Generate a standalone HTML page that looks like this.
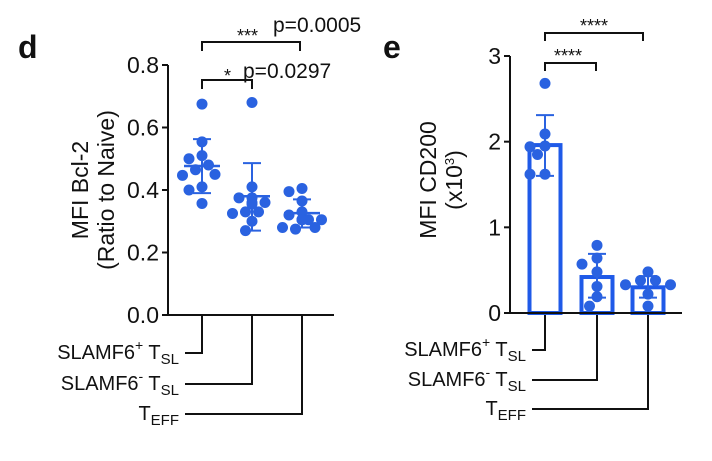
<!DOCTYPE html>
<html><head><meta charset="utf-8"><style>
body{margin:0;background:#fff;width:712px;height:456px;overflow:hidden}
svg text{font-family:"Liberation Sans",Arial,sans-serif;fill:#111}
</style></head><body>
<svg id="c" width="712" height="456" xmlns="http://www.w3.org/2000/svg">
<text x="18" y="58" font-size="32" font-weight="bold">d</text>
<text x="383" y="58" font-size="32" font-weight="bold">e</text>
<text transform="translate(88,190) rotate(-90)" text-anchor="middle" font-size="23">MFI Bcl-2</text>
<text transform="translate(114,190) rotate(-90)" text-anchor="middle" font-size="23">(Ratio to Naive)</text>
<text transform="translate(436,180) rotate(-90)" text-anchor="middle" font-size="23">MFI CD200</text>
<text transform="translate(462,180) rotate(-90)" text-anchor="middle" font-size="23">(x10<tspan font-size="13" dy="-8">3</tspan><tspan dy="8">)</tspan></text>
<g id="gd"></g><g id="ge"></g>
</svg>
<script>
const groupsD = [
  [0.675,0.554,0.51,0.50,0.48,0.465,0.45,0.447,0.41,0.40,0.357],
  [0.68,0.41,0.375,0.375,0.36,0.36,0.355,0.33,0.33,0.325,0.30,0.27],
  [0.405,0.395,0.365,0.33,0.32,0.305,0.305,0.305,0.305,0.275,0.28,0.28]
];
const meansD = [0.477, 0.38, 0.326];
const sdTopD = [0.563, 0.486, 0.37];
const sdBotD = [0.39, 0.27, 0.28];
const ticksD = ["0.0","0.2","0.4","0.6","0.8"];
const groupsE = [
  [2.68,2.09,1.95,1.94,1.85,1.62,1.62],
  [0.79,0.64,0.57,0.48,0.31,0.19,0.08],
  [0.48,0.38,0.38,0.33,0.33,0.22,0.08]
];
const barsE = [1.96, 0.42, 0.30];
const sdTopE = [2.31, 0.69, 0.43];
const sdBotE = [1.6, 0.18, 0.18];
const ticksE = ["0","1","2","3"];
const cats = ["SLAMF6+ TSL","SLAMF6- TSL","TEFF"];

const NS="http://www.w3.org/2000/svg";
function mk(p,tag,attrs){const e=document.createElementNS(NS,tag);for(const k in attrs)e.setAttribute(k,attrs[k]);p.appendChild(e);return e;}
const BLUE="#2a62e0", BLUE2="#1f5ae8";

function catLabels(g,i,rx,y){
  const t=mk(g,'text',{x:rx,y:y,'text-anchor':'end','font-size':'20'});
  
  
  if(i<2){
    t.innerHTML='SLAMF6<tspan font-size="14" dy="-9">'+(i==0?'+':'-')+'</tspan><tspan dy="9"> T</tspan><tspan font-size="15" dy="5">SL</tspan>';
  } else t.innerHTML='T<tspan font-size="15" dy="5">EFF</tspan>';
}
// beeswarm placement: returns pixel x offsets
function swarm(ys,step,minD){
  const placed=[];const out=[];
  const cand=[0,-1,1,-2,2,-3,3];
  ys.forEach(py=>{
    let ox=0;
    for(const c of cand){const x=c*step;
      if(placed.every(p=>Math.hypot(p[0]-x,p[1]-py)>=minD)){ox=x;break;}}
    placed.push([ox,py]);out.push(ox);
  });
  return out;
}
// Panel d
(function(){
  const g=document.getElementById('gd');
  const ax=168, y0=315, yTop=65, ymax=0.8;
  const y=v=>y0-(v/ymax)*(y0-yTop);
  const xs=[202,252,302];
  mk(g,'line',{x1:ax,y1:yTop,x2:ax,y2:y0,stroke:'#111','stroke-width':2});
  mk(g,'line',{x1:ax-1,y1:y0,x2:334,y2:y0,stroke:'#111','stroke-width':2});
  ticksD.forEach((t,i)=>{const v=i*0.2;mk(g,'line',{x1:ax-6,y1:y(v),x2:ax,y2:y(v),stroke:'#111','stroke-width':2});
    const tx=mk(g,'text',{x:ax-9,y:y(v)+8,'text-anchor':'end','font-size':'23'});tx.textContent=t;
    
    });
  const ly=[353,384,414];
  xs.forEach((x,i)=>{mk(g,'polyline',{points:`${x},${y0} ${x},${ly[i]} 185,${ly[i]}`,fill:'none',stroke:'#111','stroke-width':2});
    catLabels(g,i,179,ly[i]+6);});
  groupsD.forEach((vals,i)=>{
    const off=swarm(vals.map(y),6.5,10);
    vals.forEach((v,k)=>{const c=mk(g,'circle',{cx:xs[i]+off[k],cy:y(v),r:5.5,fill:BLUE});
      
      });
    mk(g,'line',{x1:xs[i],y1:y(sdTopD[i]),x2:xs[i],y2:y(sdBotD[i]),stroke:BLUE,'stroke-width':2});
    mk(g,'line',{x1:xs[i]-9,y1:y(sdTopD[i]),x2:xs[i]+9,y2:y(sdTopD[i]),stroke:BLUE,'stroke-width':2});
    mk(g,'line',{x1:xs[i]-9,y1:y(sdBotD[i]),x2:xs[i]+9,y2:y(sdBotD[i]),stroke:BLUE,'stroke-width':2});
    const m=mk(g,'line',{x1:xs[i]-18,y1:y(meansD[i]),x2:xs[i]+18,y2:y(meansD[i]),stroke:BLUE,'stroke-width':2.5});
    
    
  });
  mk(g,'polyline',{points:`202,51 202,42 300,42 300,51`,fill:'none',stroke:'#111','stroke-width':2});
  mk(g,'polyline',{points:`202,89 202,80 252,80 252,89`,fill:'none',stroke:'#111','stroke-width':2});
  let t=mk(g,'text',{x:237,y:42,'font-size':'18'});t.textContent='***';
  
  t=mk(g,'text',{x:273,y:32,'font-size':'21'});t.textContent='p=0.0005';
  
  t=mk(g,'text',{x:224,y:82,'font-size':'18'});t.textContent='*';
  
  t=mk(g,'text',{x:243,y:78,'font-size':'21'});t.textContent='p=0.0297';
  
})();
// Panel e
(function(){
  const g=document.getElementById('ge');
  const ax=510, y0=313, yTop=56, ymax=3;
  const y=v=>y0-(v/ymax)*(y0-yTop);
  const xs=[545,597,648], bw=31;
  const ly=[350,380,409];
  xs.forEach((x,i)=>{mk(g,'polyline',{points:`${x},${y0} ${x},${ly[i]} 532,${ly[i]}`,fill:'none',stroke:'#111','stroke-width':2});
    catLabels(g,i,526,ly[i]+6);});
  barsE.forEach((v,i)=>{const r=mk(g,'rect',{x:xs[i]-bw/2,y:y(v),width:bw,height:y0-y(v),fill:'#fff',stroke:BLUE2,'stroke-width':4});
    
    });
  groupsE.forEach((vals,i)=>{
    const off=swarm(vals.map(y),7.5,10);
    vals.forEach((v,k)=>{const c=mk(g,'circle',{cx:xs[i]+off[k],cy:y(v),r:5.5,fill:BLUE});
      
      });
    mk(g,'line',{x1:xs[i],y1:y(sdTopE[i]),x2:xs[i],y2:y(sdBotE[i]),stroke:BLUE,'stroke-width':2});
    mk(g,'line',{x1:xs[i]-9,y1:y(sdTopE[i]),x2:xs[i]+9,y2:y(sdTopE[i]),stroke:BLUE,'stroke-width':2});
    mk(g,'line',{x1:xs[i]-9,y1:y(sdBotE[i]),x2:xs[i]+9,y2:y(sdBotE[i]),stroke:BLUE,'stroke-width':2});
  });
  mk(g,'line',{x1:ax,y1:yTop,x2:ax,y2:y0,stroke:'#111','stroke-width':2});
  mk(g,'line',{x1:ax-1,y1:y0,x2:682,y2:y0,stroke:'#111','stroke-width':2});
  ticksE.forEach((t,i)=>{mk(g,'line',{x1:ax-6,y1:y(i),x2:ax,y2:y(i),stroke:'#111','stroke-width':2});
    const tx=mk(g,'text',{x:ax-9,y:y(i)+8,'text-anchor':'end','font-size':'23'});tx.textContent=t;
    
    });
  mk(g,'polyline',{points:`545,41 545,33 643,33 643,41`,fill:'none',stroke:'#111','stroke-width':2});
  mk(g,'polyline',{points:`545,71 545,63 596,63 596,71`,fill:'none',stroke:'#111','stroke-width':2});
  let t=mk(g,'text',{x:594,y:32,'font-size':'18','text-anchor':'middle'});t.textContent='****';
  
  t=mk(g,'text',{x:568,y:62,'font-size':'18','text-anchor':'middle'});t.textContent='****';
  
})();
</script>
</body></html>
